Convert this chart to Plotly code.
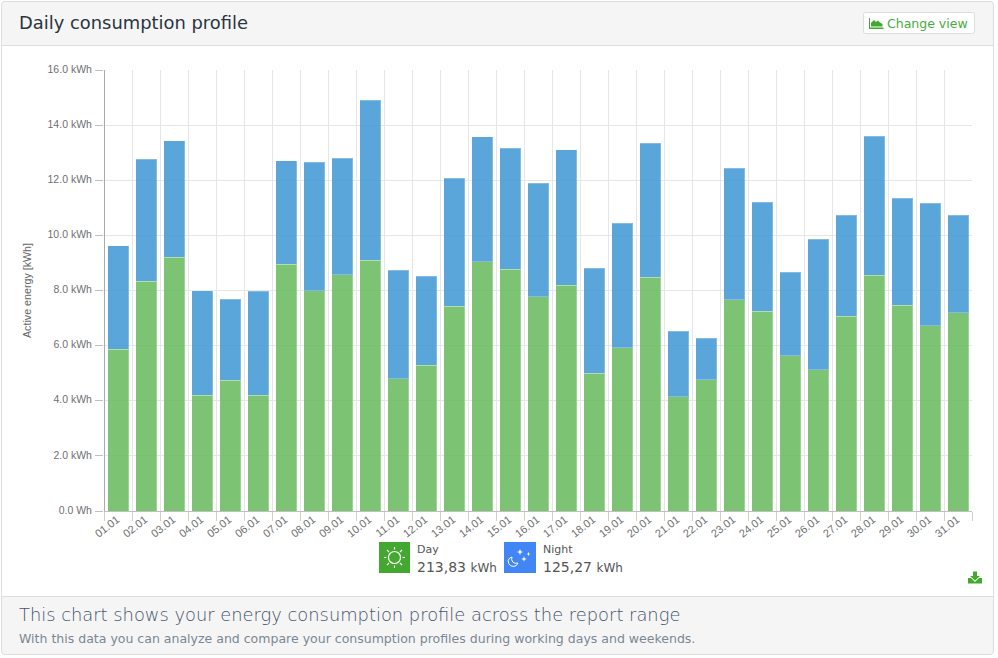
import plotly.graph_objects as go

days = ["01.01","02.01","03.01","04.01","05.01","06.01","07.01","08.01","09.01","10.01","11.01","12.01","13.01","14.01","15.01","16.01","17.01","18.01","19.01","20.01","21.01","22.01","23.01","24.01","25.01","26.01","27.01","28.01","29.01","30.01","31.01"]
day_kwh = [5.87,8.33,9.2,4.2,4.74,4.2,8.95,8.0,8.58,9.1,4.8,5.28,7.42,9.05,8.77,7.78,8.19,4.99,5.93,8.48,4.15,4.77,7.67,7.24,5.64,5.13,7.06,8.55,7.46,6.73,7.2]
night_kwh = [3.75,4.44,4.23,3.8,2.95,3.78,3.75,4.66,4.22,5.81,3.94,3.24,4.66,4.52,4.4,4.12,4.91,3.82,4.51,4.87,2.37,1.5,4.77,3.96,3.02,4.73,3.67,5.05,3.89,4.44,3.53]
y_ticks = [0,2,4,6,8,10,12,14,16]
y_labels = ["0.0 Wh","2.0 kWh","4.0 kWh","6.0 kWh","8.0 kWh","10.0 kWh","12.0 kWh","14.0 kWh","16.0 kWh"]

L, T, W, H = 104, 70, 868, 441
def X(p): return (p - L) / W
def Y(p): return (T + H - p) / H

shapes = []
def rrect(x0, y0, x1, y1, fill, line, rt, rb):
    d = (f"M {X(x0+rt):.5f},{Y(y0):.5f} L {X(x1-rt):.5f},{Y(y0):.5f} Q {X(x1):.5f},{Y(y0):.5f} {X(x1):.5f},{Y(y0+rt):.5f} "
         f"L {X(x1):.5f},{Y(y1-rb):.5f} Q {X(x1):.5f},{Y(y1):.5f} {X(x1-rb):.5f},{Y(y1):.5f} "
         f"L {X(x0+rb):.5f},{Y(y1):.5f} Q {X(x0):.5f},{Y(y1):.5f} {X(x0):.5f},{Y(y1-rb):.5f} "
         f"L {X(x0):.5f},{Y(y0+rt):.5f} Q {X(x0):.5f},{Y(y0):.5f} {X(x0+rt):.5f},{Y(y0):.5f} Z")
    shapes.append(dict(type="path", xref="paper", yref="paper", path=d, fillcolor=fill,
                       line=dict(color=line, width=1), layer="below"))
def rect(x0, y0, x1, y1, fill):
    shapes.append(dict(type="rect", xref="paper", yref="paper", x0=X(x0), y0=Y(y0), x1=X(x1), y1=Y(y1),
                       fillcolor=fill, line=dict(width=0), layer="below"))
def seg(x0, y0, x1, y1, color, lw=1):
    shapes.append(dict(type="line", xref="paper", yref="paper", x0=X(x0), y0=Y(y0), x1=X(x1), y1=Y(y1),
                       line=dict(color=color, width=lw), layer="below"))
def circ(cx, cy, r, line, lw=1):
    shapes.append(dict(type="circle", xref="paper", yref="paper", x0=X(cx-r), y0=Y(cy-r), x1=X(cx+r), y1=Y(cy+r),
                       fillcolor="rgba(0,0,0,0)", line=dict(color=line, width=lw), layer="below"))
def poly(pts, fill):
    d = "M " + " L ".join(f"{X(a):.5f},{Y(b):.5f}" for a, b in pts) + " Z"
    shapes.append(dict(type="path", xref="paper", yref="paper", path=d, fillcolor=fill, line=dict(width=0), layer="below"))
def curve(d_pts, color, lw):
    d = "M " + " L ".join(f"{X(a):.5f},{Y(b):.5f}" for a, b in d_pts)
    shapes.append(dict(type="path", xref="paper", yref="paper", path=d, line=dict(color=color, width=lw), layer="below"))

# card
rrect(1.5, 1.5, 993.5, 654.5, "#ffffff", "#dddddd", 4, 4)
rrect(1.5, 1.5, 993.5, 45.5, "#f5f5f5", "#dddddd", 4, 0)
rrect(1.5, 596.5, 993.5, 654.5, "#f5f5f5", "#dddddd", 0, 4)
# change-view button
rrect(863.5, 12.5, 974.5, 33.5, "#ffffff", "#dddddd", 2, 2)
poly([(869,18),(870,18),(870,27.5),(883.5,27.5),(883.5,29),(869,29)], "#43a82f")
poly([(871,26.5),(871,23),(874,20),(876,22),(878,20.5),(880,22.5),(882.5,24),(882.5,26.5)], "#43a82f")
# download icon
poly([(973,571.5),(977,571.5),(977,576),(980,576),(975,580.5),(970,576),(973,576)], "#43a82f")
poly([(968,578),(971,578),(975,582),(979,578),(982,578),(982,583.5),(968,583.5)], "#43a82f")
# legend icons
rect(379, 542, 410, 573, "#43a82f")
rect(504, 542, 536, 573, "#4285f4")
circ(394.5, 557.5, 6, "#ffffff", 1.2)
for a, b, c, d in [(394.5,547,394.5,549.5),(394.5,565.5,394.5,568),(384,557.5,386.5,557.5),(402.5,557.5,405,557.5),
                   (387,550,389,552),(400,563,402,565),(387,565,389,563),(400,552,402,550)]:
    seg(a, b, c, d, "#ffffff", 1.2)
curve([(512,557),(509.5,558.2),(508.2,560.5),(508.7,563.5),(510.8,565.8),(513.8,566.5),(516.5,565.3),(518,563),(515,563.3),(512.8,562),(511.6,559.8),(512,557)], "#ffffff", 1)
for cx, cy, r in [(520,552,3.2),(528.5,554,2.2),(524,559,2.8)]:
    poly([(cx,cy-r),(cx+r*.25,cy-r*.25),(cx+r,cy),(cx+r*.25,cy+r*.25),(cx,cy+r),(cx-r*.25,cy+r*.25),(cx-r,cy),(cx-r*.25,cy-r*.25)], "#ffffff")
# y axis line
shapes.append(dict(type="line", xref="paper", yref="paper", x0=X(104.5), x1=X(104.5), y0=0, y1=1,
                   line=dict(color="#aaaaaa", width=1), layer="above"))

def note(px, py, text, size, color, family="DejaVu Sans"):
    return dict(xref="paper", yref="paper", x=X(px), y=Y(py), text=text, showarrow=False, xanchor="left", yanchor="middle",
                font=dict(size=size, color=color, family=family), borderpad=0, borderwidth=0)

annotations = [
    note(19, 22.5, "Daily consumption profile", 17.9, "#2b3440"),
    note(887, 23.5, "Change view", 12.5, "#46ad3c"),
    note(417, 549.5, "Day", 11, "#555555"),
    note(417, 567, "213,83 <span style='font-size:12px'>kWh</span>", 14, "#555555"),
    note(543, 549.5, "Night", 11, "#555555"),
    note(543, 567, "125,27 <span style='font-size:12px'>kWh</span>", 14, "#555555"),
    note(19, 614.5, "This chart shows your energy consumption profile across the report range", 17.87, "#46546a", "DejaVu Sans Light, DejaVu Sans"),
    note(19, 638, "With this data you can analyze and compare your consumption profiles during working days and weekends.", 12.52, "#7a8794"),
]

fig = go.Figure()
fig.add_bar(x=days, y=day_kwh, name="Day", marker=dict(color="rgba(101,186,91,0.85)", line=dict(width=1, color="rgba(255,255,255,0.25)")))
fig.add_bar(x=days, y=night_kwh, name="Night", marker=dict(color="rgba(61,149,211,0.85)", line=dict(width=1, color="rgba(255,255,255,0.25)")))
fig.update_layout(
    barmode="stack", bargap=0.25, width=998, height=658, autosize=False, showlegend=False,
    margin=dict(l=L, r=998-L-W, t=T, b=658-T-H, pad=0),
    paper_bgcolor="#ffffff", plot_bgcolor="rgba(0,0,0,0)",
    shapes=shapes, annotations=annotations,
    font=dict(family="Liberation Sans", size=10.5, color="#666666"),
    xaxis=dict(type="category", categoryorder="array", categoryarray=days, tickson="boundaries", tickangle=-38,
               showgrid=True, gridcolor="#e6e6e6", gridwidth=1, ticks="outside", ticklen=9, tickcolor="#d0d0d0",
               showline=True, linecolor="#c0c0c0", linewidth=1, ticklabelstandoff=-3, ticklabelshift=-1,
               tickfont=dict(size=11, color="#707070")),
    yaxis=dict(range=[0,16], tickmode="array", tickvals=y_ticks, ticktext=y_labels, showgrid=True, gridcolor="#e6e6e6",
               gridwidth=1, ticks="outside", ticklen=8, tickcolor="#c0c0c0", showline=False,
               zeroline=False, ticklabelstandoff=1, ticklabelshift=-1, tickfont=dict(size=10.5, color="#707070"),
               title=dict(text="Active energy [kWh]", font=dict(size=10.7, color="#666666"), standoff=13)),
)
fig.write_html("out.html", config=dict(displayModeBar=False),
               post_script="document.body.style.margin='0';")
